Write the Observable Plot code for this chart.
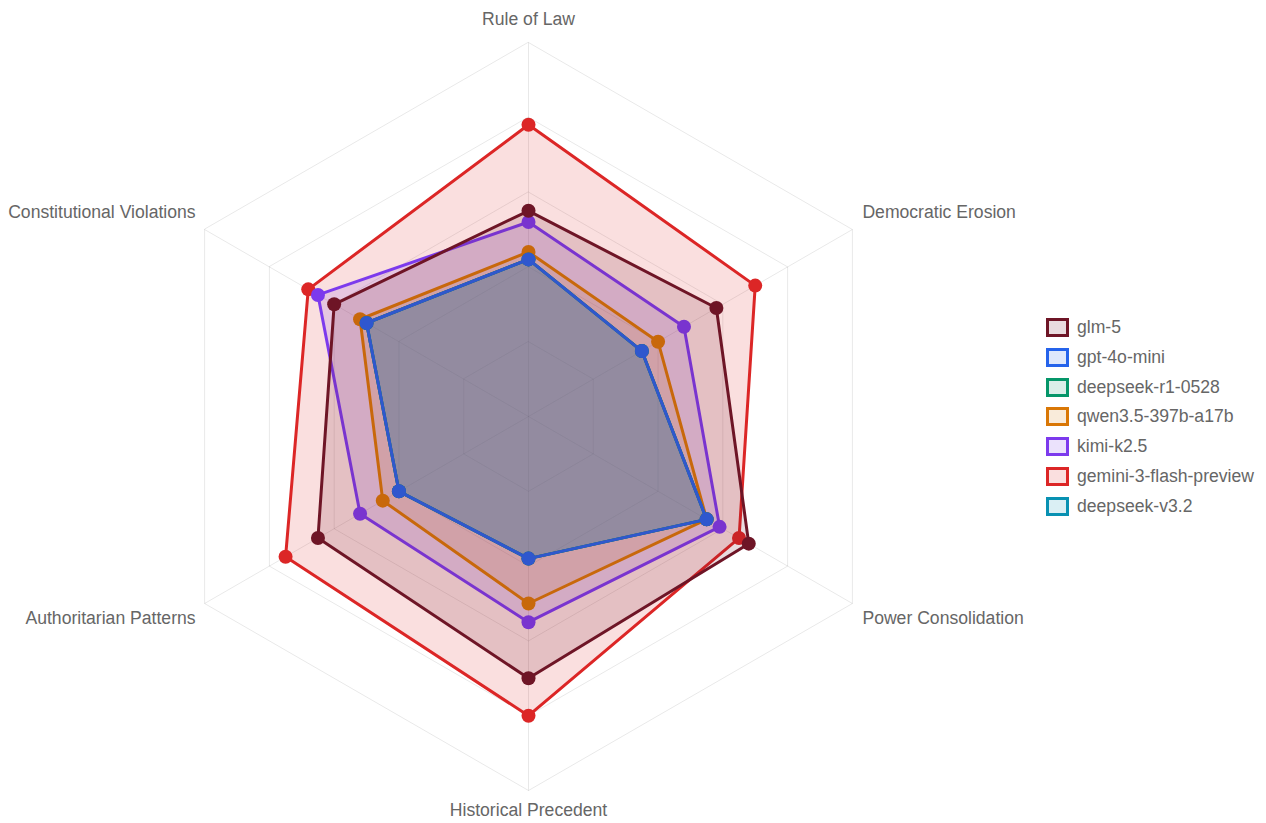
<!DOCTYPE html>
<html>
<head>
<meta charset="utf-8">
<script src="https://cdn.jsdelivr.net/npm/d3@7"></script>
<script src="https://cdn.jsdelivr.net/npm/@observablehq/plot@0.6"></script>
<style>
  html, body { margin: 0; padding: 0; background: #fff; }
  #wrap { position: relative; width: 1266px; height: 823px; overflow: hidden; }
  #legend { position: absolute; left: 1046px; top: 312.6px; font-family: "Liberation Sans", Arial, Helvetica, sans-serif; font-size: 17.6px; color: #666; }
  .row { display: flex; align-items: center; height: 29.8px; white-space: nowrap; }
  .box { width: 23px; height: 19px; box-sizing: border-box; border: 3px solid; margin-right: 8px; flex: none; }
</style>
</head>
<body>
<div id="wrap"><div id="chart"></div><div id="legend"></div></div>
<script>
// Axes (clockwise from top)
const axes = ["Rule of Law", "Democratic Erosion", "Power Consolidation", "Historical Precedent", "Authoritarian Patterns", "Constitutional Violations"];

// Series (legend order)
const models = ["glm-5", "gpt-4o-mini", "deepseek-r1-0528", "qwen3.5-397b-a17b", "kimi-k2.5", "gemini-3-flash-preview", "deepseek-v3.2"];
const colors = ["#6e1526", "#2563eb", "#059669", "#d97706", "#7c3aed", "#dc2626", "#0891b2"];

const glm5        = [5.5, 5.8, 6.8, 7.0, 6.5, 6.0];
const gpt4oMini   = [4.2, 3.5, 5.5, 3.8, 4.0, 5.0];
const deepseekR1  = [4.2, 3.5, 5.5, 3.8, 4.0, 5.0];
const qwen35      = [4.4, 4.0, 5.5, 5.0, 4.5, 5.2];
const kimiK25     = [5.2, 4.8, 5.9, 5.5, 5.2, 6.5];
const gemini3     = [7.8, 7.0, 6.5, 8.0, 7.5, 6.8];
const deepseekV32 = [4.2, 3.5, 5.5, 3.8, 4.0, 5.0];

const seriesValues = [glm5, gpt4oMini, deepseekR1, qwen35, kimiK25, gemini3, deepseekV32];
const maxValue = 10;
const gridLevels = [2, 4, 6, 8, 10];

const angle = i => (i * 2 * Math.PI) / axes.length;
const px = (i, r) => r * Math.sin(angle(i));
const py = (i, r) => r * Math.cos(angle(i));

// long-format table
const rows = [];
models.forEach((m, k) => seriesValues[k].forEach((v, i) => rows.push({model: m, axis: axes[i], i, value: v, x: px(i, v), y: py(i, v)})));

const gridRows = [];
gridLevels.forEach(l => axes.forEach((a, i) => gridRows.push({level: l, x: px(i, l), y: py(i, l)})));
const spokes = axes.map((a, i) => ({axis: a, i, x: px(i, maxValue), y: py(i, maxValue)}));

const marks = [
  Plot.line(gridRows, {x: "x", y: "y", z: "level", curve: "linear-closed", stroke: "#000", strokeOpacity: 0.09, strokeWidth: 1}),
  Plot.link(spokes, {x1: 0, y1: 0, x2: "x", y2: "y", stroke: "#000", strokeOpacity: 0.09, strokeWidth: 1})
];

// draw in reverse order so the first dataset is on top
for (let k = models.length - 1; k >= 0; k--) {
  const d = rows.filter(r => r.model === models[k]);
  marks.push(Plot.line(d, {x: "x", y: "y", curve: "linear-closed", stroke: colors[k], strokeWidth: 3, fill: colors[k], fillOpacity: 0.15, strokeLinejoin: "round"}));
  marks.push(Plot.dot(d, {x: "x", y: "y", r: 7, fill: colors[k], stroke: "none"}));
}

const labelStyle = {fill: "#666", fontSize: 17.6};
marks.push(Plot.text(spokes.filter(s => s.i === 0), {x: "x", y: "y", text: "axis", dy: -23, textAnchor: "middle", ...labelStyle}));
marks.push(Plot.text(spokes.filter(s => s.i === 3), {x: "x", y: "y", text: "axis", dy: 20, textAnchor: "middle", ...labelStyle}));
marks.push(Plot.text(spokes.filter(s => s.i === 1), {x: "x", y: "y", text: "axis", dx: 10, dy: -17, textAnchor: "start", ...labelStyle}));
marks.push(Plot.text(spokes.filter(s => s.i === 2), {x: "x", y: "y", text: "axis", dx: 10, dy: 15, textAnchor: "start", ...labelStyle}));
marks.push(Plot.text(spokes.filter(s => s.i === 5), {x: "x", y: "y", text: "axis", dx: -9, dy: -17, textAnchor: "end", ...labelStyle}));
marks.push(Plot.text(spokes.filter(s => s.i === 4), {x: "x", y: "y", text: "axis", dx: -9, dy: 15, textAnchor: "end", ...labelStyle}));

const chart = Plot.plot({
  width: 1266,
  height: 823,
  margin: 0,
  x: {domain: [-maxValue, maxValue], range: [154, 902], axis: null},
  y: {domain: [-maxValue, maxValue], range: [790, 42], axis: null},
  style: {fontFamily: "'Liberation Sans', Arial, Helvetica, sans-serif", background: "#fff", overflow: "visible"},
  marks
});
document.getElementById("chart").appendChild(chart);

const legend = document.getElementById("legend");
models.forEach((m, k) => {
  const row = document.createElement("div");
  row.className = "row";
  const box = document.createElement("span");
  box.className = "box";
  box.style.borderColor = colors[k];
  const c = d3.color(colors[k]); c.opacity = 0.15;
  box.style.background = c.formatRgb();
  const t = document.createElement("span");
  t.textContent = m;
  row.appendChild(box); row.appendChild(t);
  legend.appendChild(row);
});
</script>
</body>
</html>
